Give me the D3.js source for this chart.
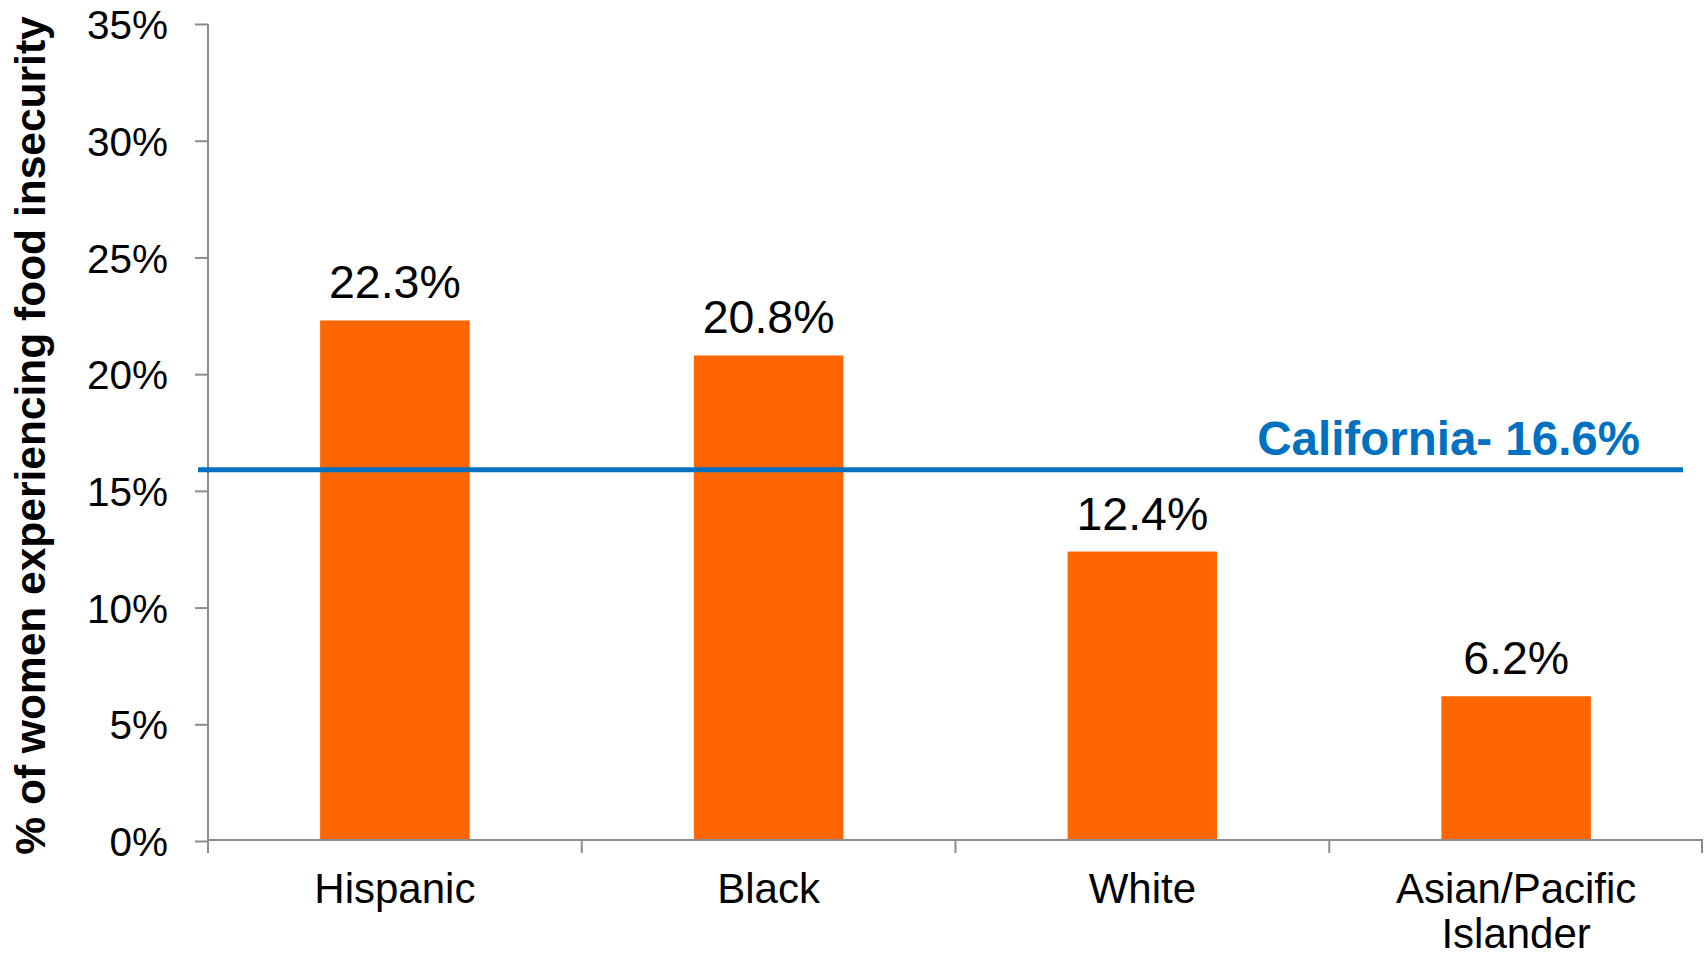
<!DOCTYPE html>
<html>
<head>
<meta charset="utf-8">
<script src="https://cdn.jsdelivr.net/npm/d3@7"></script>
<style>
  html, body { margin: 0; padding: 0; background: #fff; }
  svg { display: block; }
  text { font-family: "Liberation Sans", Arial, sans-serif; }
</style>
</head>
<body>
<svg id="chart" width="1708" height="956"></svg>
<script>
// Data
const categories = ["Hispanic", "Black", "White", "Asian/Pacific Islander"];
const categoryLines = [["Hispanic"], ["Black"], ["White"], ["Asian/Pacific", "Islander"]];
const values = [22.3, 20.8, 12.4, 6.2];
const valueLabels = ["22.3%", "20.8%", "12.4%", "6.2%"];
const yTicks = [0, 5, 10, 15, 20, 25, 30, 35];
const referenceValue = 15.9; // drawn position of the state line
const referenceLabel = "California- 16.6%";
const yTitle = "% of women experiencing food insecurity";

(function () {
const svg = d3.select("#chart");
const mLeft = 208, mRight = 1703, mTop = 24, mBottom = 841;

const y = d3.scaleLinear().domain([0, 35]).range([mBottom, mTop]);
const x = d3.scaleBand().domain(categories).range([mLeft, mRight]).paddingInner(0.6).paddingOuter(0.3);

const axisColor = "#8c8c8c";

// Y axis
const yAxis = svg.append("g").attr("transform", `translate(${mLeft},0)`)
  .call(d3.axisLeft(y).tickValues(yTicks).tickSize(13).tickPadding(27).tickFormat(d => d + "%"));
yAxis.select(".domain").attr("stroke", axisColor).attr("stroke-width", 2).attr("d", `M0,${mTop}V${mBottom + 12}`);
yAxis.selectAll(".tick line").attr("stroke", axisColor).attr("stroke-width", 2);
yAxis.selectAll(".tick text").attr("font-size", 40.5).attr("fill", "#000")
  .attr("font-family", "'Liberation Sans', Arial, sans-serif").attr("dy", "0.36em");

// Bars
svg.append("g").selectAll("rect").data(values).join("rect")
  .attr("x", (d, i) => x(categories[i]))
  .attr("width", x.bandwidth())
  .attr("y", d => y(d))
  .attr("height", d => y(0) - y(d))
  .attr("fill", "#FF6600");

// X axis
const xg = svg.append("g");
xg.append("line").attr("x1", mLeft).attr("x2", mRight).attr("y1", mBottom - 1).attr("y2", mBottom - 1)
  .attr("stroke", axisColor).attr("stroke-width", 2);
xg.selectAll("line.b").data(d3.range(categories.length + 1)).join("line").attr("class", "b")
  .attr("x1", i => Math.min(mLeft + i * (mRight - mLeft) / categories.length, mRight - 1))
  .attr("x2", i => Math.min(mLeft + i * (mRight - mLeft) / categories.length, mRight - 1))
  .attr("y1", mBottom - 1).attr("y2", mBottom + 12)
  .attr("stroke", axisColor).attr("stroke-width", 2);

// Category labels
xg.selectAll("text.cat").data(categories).join("text").attr("class", "cat")
  .attr("x", d => x(d) + x.bandwidth() / 2)
  .attr("y", 903)
  .attr("text-anchor", "middle")
  .attr("font-size", 42)
  .attr("fill", "#000")
  .each(function (d, i) {
    const t = d3.select(this);
    categoryLines[i].forEach((ln, j) => {
      t.append("tspan").attr("x", x(d) + x.bandwidth() / 2).attr("dy", j === 0 ? 0 : 45).text(ln);
    });
  });

// Value labels
svg.append("g").selectAll("text").data(values).join("text")
  .attr("x", (d, i) => x(categories[i]) + x.bandwidth() / 2)
  .attr("y", d => y(d) - 22)
  .attr("text-anchor", "middle")
  .attr("font-size", 46.5)
  .attr("fill", "#000")
  .text((d, i) => valueLabels[i]);

// Reference line
svg.append("line")
  .attr("x1", mLeft - 10).attr("x2", 1683)
  .attr("y1", y(referenceValue)).attr("y2", y(referenceValue))
  .attr("stroke", "#0070C0").attr("stroke-width", 5);
svg.append("text")
  .attr("x", 1640).attr("y", y(referenceValue) - 15)
  .attr("text-anchor", "end")
  .attr("font-size", 47.5)
  .attr("font-weight", "bold")
  .attr("fill", "#0070C0")
  .text(referenceLabel);

// Y title
svg.append("text")
  .attr("transform", `translate(45,${(16 + 855) / 2}) rotate(-90)`)
  .attr("text-anchor", "middle")
  .attr("font-size", 42.5)
  .attr("font-weight", "bold")
  .attr("fill", "#000")
  .text(yTitle);
})();
</script>
</body>
</html>
